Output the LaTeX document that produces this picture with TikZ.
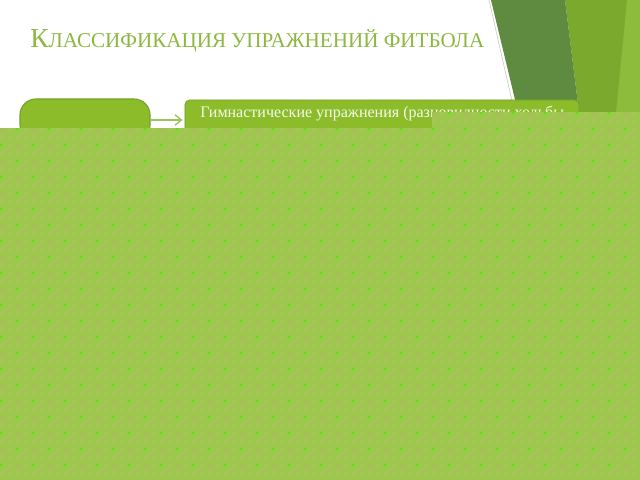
\documentclass[tikz,border=0pt]{standalone}
\usepackage{fontspec}
\setmainfont{Liberation Serif}
\usepackage{tikz}
\usetikzlibrary{positioning, arrows.meta}

\definecolor{titlegreen}{HTML}{8DB840}
\definecolor{boxgreen}{HTML}{8CBC2A}
\definecolor{boxedge}{HTML}{78A22A}
\definecolor{arrowgreen}{HTML}{9CC45C}
\definecolor{dkleaf}{HTML}{5E8B40}
\definecolor{midleaf}{HTML}{7BA92D}
\definecolor{ltleaf}{HTML}{8DBB3C}
\definecolor{sheet}{HTML}{9FC64E}
\definecolor{dotfaint}{HTML}{B8D868}
\definecolor{dotbright}{HTML}{44EE00}
\definecolor{dottan}{HTML}{BCA878}

\tikzset{
  catbox/.style={draw=boxedge, fill=boxgreen, line width=0.8pt, rounded corners=0.4cm,
    minimum width=3.25cm, minimum height=1.05cm},
  gymbox/.style={draw=boxedge, fill=boxgreen, line width=0.6pt, rounded corners=0.12cm,
    minimum width=9.85cm, minimum height=1cm},
  flow/.style={-{Straight Barb[length=1.6mm, width=2.6mm]}, arrowgreen, line width=1pt,
    shorten >=0.05cm}
}

\begin{document}
\begin{tikzpicture}[x=0.025cm, y=-0.025cm]
\useasboundingbox (0,0) rectangle (640,480);
\fill[white] (0,0) rectangle (640,480);
% Leaves in the corner
\fill[ltleaf] (600,0) -- (640,0) -- (640,112) -- (600,112) -- cycle;
\fill[midleaf] (565,0) -- (627,0) -- (616,112) -- (579,112) -- cycle;
\fill[dkleaf] (491,0) -- (565,0) -- (579,112) -- (518,112) -- cycle;
\draw[gray!45, line width=0.4pt] (489,0) -- (514.5,112);
% Title
\node[anchor=base west, text=titlegreen, inner sep=0pt] (title) at (30,47)
  {\fontsize{19.5}{20}\selectfont К\fontsize{15}{16}\selectfont ЛАССИФИКАЦИЯ УПРАЖНЕНИЙ ФИТБОЛА};
% Boxes
\node[catbox] (cat) at (85,120) {};
\node[gymbox] (gym) at (382,120) {};
\node[anchor=base west, text=white!92!boxgreen, inner sep=0pt] (gymtext) at (200,117)
  {\fontsize{11.4}{12}\selectfont Гимнастические упражнения (разновидности ходьбы};
\draw[flow] (cat) -- (gym);
% Sheet on top
\fill[sheet] (0,128) -- (432,128) -- (432,112) -- (640,112) -- (640,480) -- (0,480) -- cycle;
\begin{scope}
\clip (0,128) -- (432,128) -- (432,112) -- (640,112) -- (640,480) -- (0,480) -- cycle;
\foreach \x in {1,9,...,641}{
\foreach \y in {113,121,...,481}{
\fill[dotfaint] (\x-0.45,\y-0.45) rectangle (\x+0.45,\y+0.45);
}}
\foreach \x in {1,33,...,641}{
\foreach \y in {113,145,...,481}{
\fill[dotbright] (\x-0.6,\y-0.6) rectangle (\x+0.6,\y+0.6);
\fill[dotbright] (\x+15.4,\y+15.4) rectangle (\x+16.6,\y+16.6);
\fill[dottan] (\x+16.4,\y-0.6) rectangle (\x+17.6,\y+0.6);
\fill[dottan] (\x+0.4,\y+15.4) rectangle (\x+1.6,\y+16.6);
}}
\end{scope}
\end{tikzpicture}
\end{document}
